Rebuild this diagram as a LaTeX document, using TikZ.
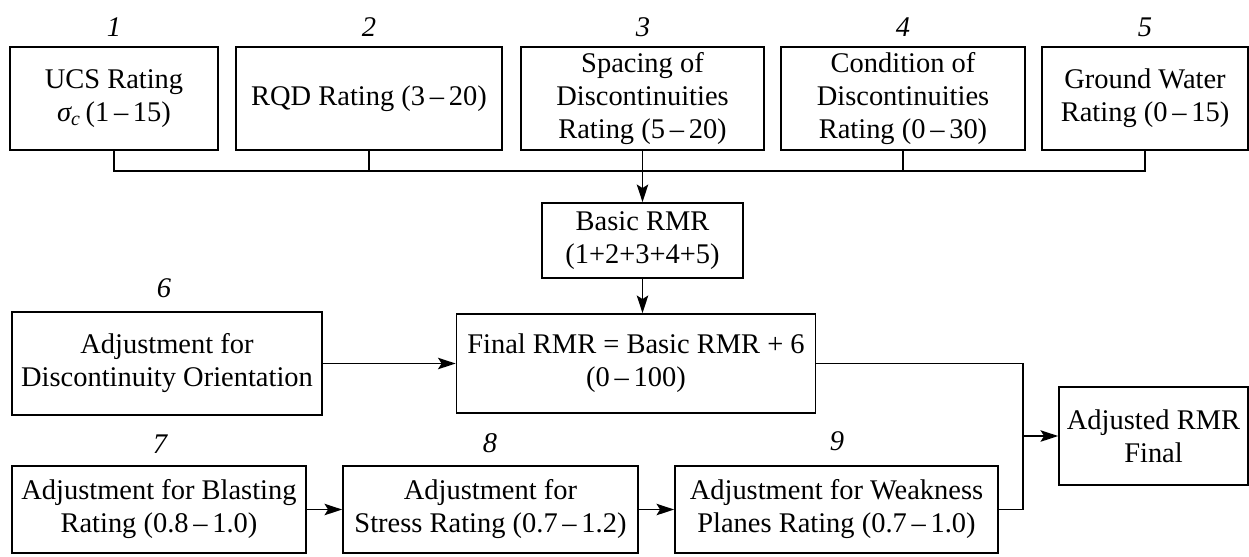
\documentclass[tikz,border=0pt]{standalone}
\usepackage{fontspec}
\setmainfont{Liberation Serif}
\usetikzlibrary{arrows.meta}
\tikzset{
    box/.style={draw, line width=1pt, inner sep=2pt, align=center,
                font=\fontsize{16.2}{18.8}\selectfont},
    wh/.style 2 args={minimum width=#1*0.2mm, minimum height=#2*0.2mm},
    num/.style={font=\fontsize{16.2}{18.8}\selectfont\itshape, inner sep=0pt},
    flow/.style={-{Stealth[length=10pt, width=6.5pt, inset=2pt]}, line width=1.1pt},
    link/.style={line width=1.1pt},
}
\newcommand{\rng}[2]{(#1\,–\,#2)}

\begin{document}
\begin{tikzpicture}[x=0.2mm, y=-0.2mm]
    \useasboundingbox (0,0) rectangle (1249,556);

    % ratings 1-5
    \node[box, wh={208}{103}] (ucs) at (114,98.5)
        {UCS Rating\\{\itshape σ\textsubscript{c}}\,\rng{1}{15}};
    \node[box, wh={266}{103}] (rqd) at (369,98.5) {RQD Rating \rng{3}{20}};
    \node[box, wh={243}{103}] (spacing) at (642.5,98.5)
        {Spacing of\\Discontinuities\\Rating \rng{5}{20}};
    \node[box, wh={244}{103}] (cond) at (903,98.5)
        {Condition of\\Discontinuities\\Rating \rng{0}{30}};
    \node[box, wh={206}{103}] (water) at (1145,98.5) {Ground Water\\Rating \rng{0}{15}};
    \node[num] (n1) at (114,27) {1};
    \node[num] (n2) at (369,27) {2};
    \node[num] (n3) at (643,27) {3};
    \node[num] (n4) at (903,27) {4};
    \node[num] (n5) at (1145,27) {5};

    \node[box, wh={201}{75}] (basic) at (642.5,240.5) {Basic RMR\\(1+2+3+4+5)};
    \node[box, wh={359}{99}] (final) at (636,363.5)
        {Final RMR = Basic RMR + 6\\\rng{0}{100}};
    \node[box, wh={310}{103}] (orient) at (167,363.5)
        {Adjustment for\\Discontinuity Orientation};
    \node[num] (n6) at (164,288) {6};

    % adjustments 7-9
    \node[box, wh={294}{87}] (blast) at (159,509.5)
        {Adjustment for Blasting\\Rating \rng{0.8}{1.0}};
    \node[box, wh={295}{87}] (stress) at (490.5,509.5)
        {Adjustment for\\Stress Rating \rng{0.7}{1.2}};
    \node[box, wh={323}{87}] (weak) at (836.5,509.5)
        {Adjustment for Weakness\\Planes Rating \rng{0.7}{1.0}};
    \node[num] (n7) at (160,444) {7};
    \node[num] (n8) at (490,443) {8};
    \node[num] (n9) at (837,441) {9};
    \node[box, wh={189}{98}] (adjusted) at (1153.5,436) {Adjusted RMR\\Final};

    \coordinate (bus) at (642.5,171);
    \draw[link] (ucs.south) |- (bus) -| (water.south);
    \draw[link] (rqd.south) -- (rqd.south |- bus);
    \draw[link] (cond.south) -- (cond.south |- bus);
    \draw[flow] (spacing.south) -- (basic.north);
    \draw[flow] (basic.south) -- (basic.south |- final.north);
    \draw[flow] (orient.east) -- (final.west);

    \coordinate (join) at (1023,436);
    \draw[link] (final.east) -| (join) |- (weak.east);
    \draw[flow] (join) -- (adjusted.west);
    \draw[flow] (blast) -- (stress);
    \draw[flow] (stress) -- (weak);

\end{tikzpicture}
\end{document}
